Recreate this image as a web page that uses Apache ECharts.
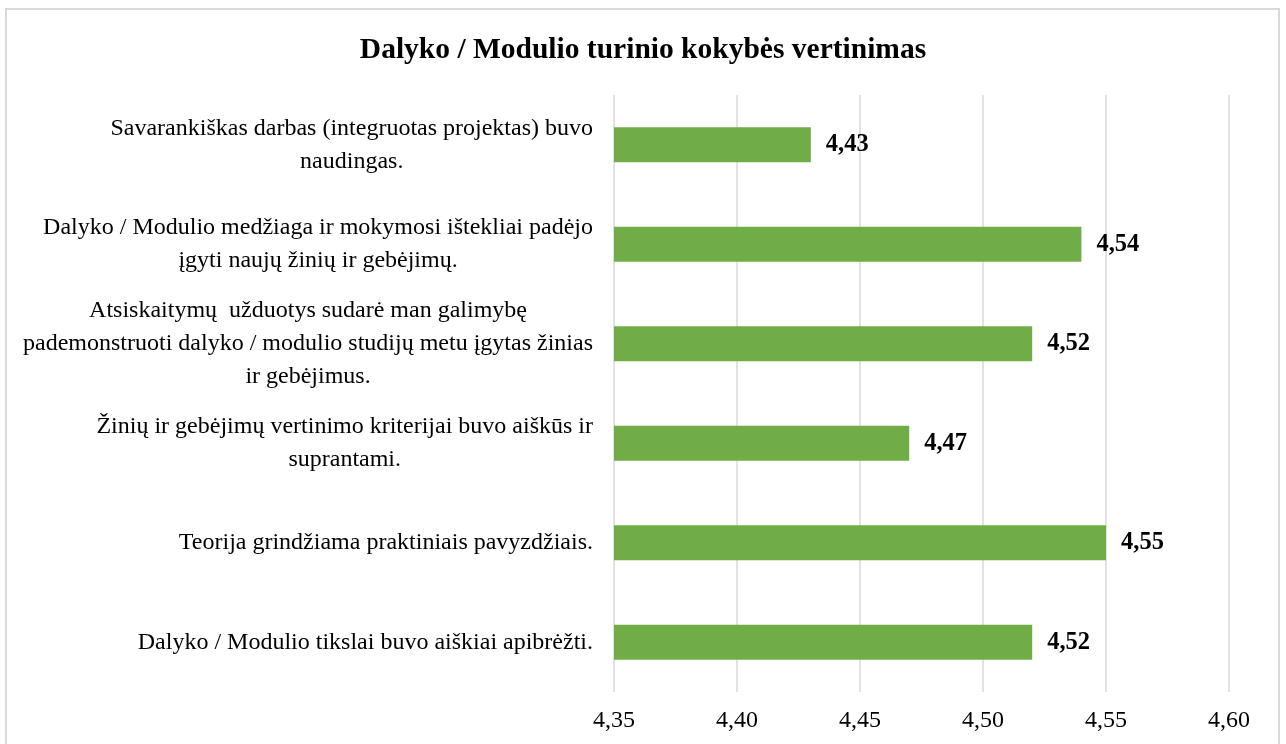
<!DOCTYPE html>
<html>
<head>
<meta charset="utf-8">
<script src="https://cdn.jsdelivr.net/npm/echarts@6/dist/echarts.min.js"></script>
<style>
	html, body { margin: 0; padding: 0; background: #fff; overflow: hidden; }
	#frame { position: absolute; left: 5px; top: 8px; width: 1271px; height: 780px; border: 2px solid #d9d9d9; }
	#chart { position: absolute; left: 0; top: 0; width: 1286px; height: 744px; }
</style>
</head>
<body>
<div id="frame"></div>
<div id="chart"></div>
<script>
// 类目（从上到下）
var categories = [
	'Savarankiškas darbas (integruotas projektas) buvo\nnaudingas.',
	'Dalyko / Modulio medžiaga ir mokymosi ištekliai padėjo\nįgyti naujų žinių ir gebėjimų.',
	'Atsiskaitymų  užduotys sudarė man galimybę\npademonstruoti dalyko / modulio studijų metu įgytas žinias\nir gebėjimus.',
	'Žinių ir gebėjimų vertinimo kriterijai buvo aiškūs ir\nsuprantami.',
	'Teorija grindžiama praktiniais pavyzdžiais.',
	'Dalyko / Modulio tikslai buvo aiškiai apibrėžti.'
];
var values = [4.43, 4.54, 4.52, 4.47, 4.55, 4.52];
var axisMin = 4.35, axisMax = 4.60, axisStep = 0.05;

(function() {
	var font = '"Liberation Serif", "Times New Roman", serif';
	var myChart = echarts.init(document.getElementById('chart'));
	var option = {
		animation: false,
		title: {
			text: 'Dalyko / Modulio turinio kokybės vertinimas',
			left: 'center',
			top: 30,
			textStyle: { fontFamily: font, fontSize: 29.5, fontWeight: 'bold', color: '#000' }
		},
		grid: { left: 614, right: 57, top: 95, bottom: 52 },
		xAxis: {
			type: 'value',
			min: axisMin,
			max: axisMax,
			interval: axisStep,
			axisLine: { show: false },
			axisTick: { show: false },
			axisLabel: {
				margin: 17,
				color: '#000',
				fontFamily: font,
				fontSize: 24,
				formatter: function(v) { return v.toFixed(2).replace('.', ','); }
			},
			splitLine: { lineStyle: { color: '#d9d9d9', width: 1.5 } }
		},
		yAxis: {
			type: 'category',
			inverse: true,
			data: categories,
			axisLine: { show: false },
			axisTick: { show: false },
			axisLabel: {
				margin: 21,
				align: 'right',
				formatter: function(v) {
					return v.split('\n').map(function(l) { return '{c|' + l + '}'; }).join('\n');
				},
				rich: {
					c: { align: 'center', fontFamily: font, fontSize: 24, lineHeight: 33, color: '#000' }
				}
			}
		},
		series: [{
			type: 'bar',
			data: values,
			barWidth: 35,
			itemStyle: { color: '#70ad47' },
			label: {
				show: true,
				position: 'right',
				distance: 15,
				fontFamily: font,
				fontSize: 24.5,
				fontWeight: 'bold',
				color: '#000',
				formatter: function(p) { return p.value.toFixed(2).replace('.', ','); }
			}
		}]
	};
	myChart.setOption(option);
})();
</script>
</body>
</html>
